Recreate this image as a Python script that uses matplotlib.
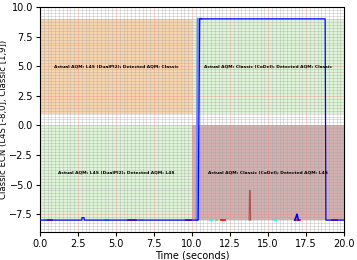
import matplotlib
matplotlib.use("Agg")
import matplotlib.pyplot as plt
from matplotlib.ticker import MultipleLocator

# Main ECN classification series (blue)
t_main = [0.0, 2.75, 2.76, 2.9, 2.91, 10.4, 10.5, 18.75, 18.8, 20.0]
v_main = [-8.0, -8.0, -7.8, -7.8, -8.0, -8.0, 9.0, 9.0, -8.0, -8.0]
# second flow (light blue, slightly earlier rise)
t_flow2 = [10.3, 10.38, 10.6]
v_flow2 = [-8.0, 9.0, 9.0]
# spike at ~13.8 (brown/red)
t_spike = [13.75, 13.78, 13.82, 13.85]
v_spike = [-8.0, -5.5, -5.5, -8.0]
# blip around 16.9
t_blip = [16.75, 16.85, 16.9, 16.95, 17.0]
v_blip = [-8.0, -7.7, -7.5, -7.8, -8.0]
# small coloured flow fragments along the floor
frag_starts = [0.3, 0.55, 4.3, 5.8, 6.6, 9.6, 11.2, 11.55, 11.9, 15.4, 16.8, 19.2]
frag_ends = [0.5, 0.8, 4.45, 6.3, 6.8, 9.9, 11.3, 11.65, 12.15, 15.5, 17.1, 19.5]
frag_colors = ['#9acd32', 'red', 'cyan', 'red', '#c0c0c0', 'red', 'cyan',
               '#9acd32', 'red', 'cyan', 'red', 'red']

regions = [
    (0, 10, 1, 9, '#f5b36b', 0.55, 'Actual AQM: L4S (DualPI2); Detected AQM: Classic', 5, 5),
    (10, 20, 1, 9, '#b6e8a8', 0.45, 'Actual AQM: Classic (CoDel); Detected AQM: Classic', 15, 5),
    (0, 10, -8, 0, '#b6e8a8', 0.45, 'Actual AQM: L4S (DualPI2); Detected AQM: L4S', 5, -4),
    (10, 20, -8, 0, '#a86262', 0.5, 'Actual AQM: Classic (CoDel); Detected AQM: L4S', 15, -4),
]

fig = plt.figure(figsize=(3.57, 2.6), dpi=100)
ax = fig.add_axes([0.112, 0.108, 0.852, 0.865])

for x0, x1, y0, y1, c, a, label, tx, ty in regions:
    ax.fill_between([x0, x1], y0, y1, color=c, alpha=a, lw=0, zorder=0)
    ax.text(tx, ty, label, ha='center', va='center', fontsize=3.2,
            fontweight='bold', zorder=5)

ax.plot(t_flow2, v_flow2, color='#6f8cff', lw=1.6, zorder=3)
for s, e, c in zip(frag_starts, frag_ends, frag_colors):
    ax.plot([s, e], [-8.0, -8.0], color=c, lw=1.2, zorder=3)
ax.plot(t_main, v_main, color='blue', lw=0.9, zorder=4)
ax.plot(t_spike, v_spike, color='#b05050', lw=0.8, zorder=3)
ax.plot(t_blip, v_blip, color='blue', lw=1.2, zorder=4)

ax.set_xlim(0, 20)
ax.set_ylim(-9, 10)
ax.xaxis.set_major_locator(MultipleLocator(2.5))
ax.yaxis.set_major_locator(MultipleLocator(2.5))
ax.xaxis.set_minor_locator(MultipleLocator(0.25))
ax.yaxis.set_minor_locator(MultipleLocator(0.25))
ax.grid(which='major', color='#f08080', lw=0.5, alpha=0.5, zorder=1)
ax.grid(which='minor', color='#a0a0a0', lw=0.4, alpha=0.55, zorder=1)
ax.set_axisbelow(True)
ax.tick_params(which='minor', length=0)
ax.tick_params(which='major', labelsize=7, length=3, pad=2)
ax.set_xlabel('Time (seconds)', fontsize=7, labelpad=1)
ax.set_ylabel('Classic ECN (L4S [-8,0], Classic [1,9])', fontsize=6.1, labelpad=1)

fig.savefig('out.png', dpi=100)
